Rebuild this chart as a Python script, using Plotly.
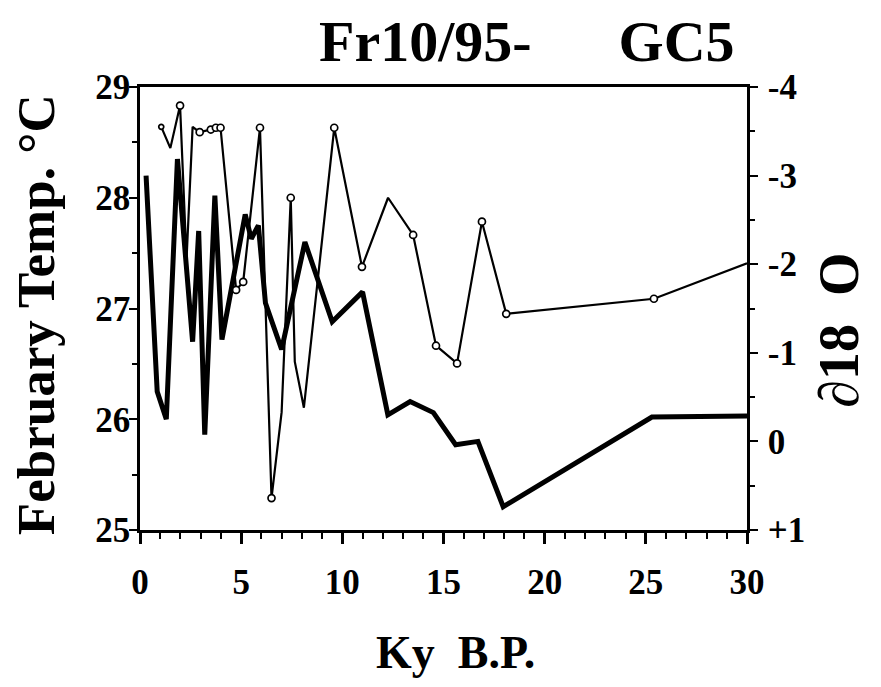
import plotly.graph_objects as go

# February temperature (left axis)
temp_age = [0.3, 0.85, 1.3, 1.85, 2.6, 2.9, 3.2, 3.7, 4.05, 5.2, 5.5, 5.85, 6.2, 7.0,
            8.15, 9.5, 11.0, 12.25, 13.35, 14.5, 15.6, 16.7, 17.95, 25.3, 30.0]
temp_val = [28.2, 26.25, 26.0, 28.35, 26.7, 27.7, 25.86, 28.02, 26.72, 27.85, 27.63, 27.75, 27.05, 26.63,
            27.6, 26.88, 27.15, 26.04, 26.16, 26.06, 25.77, 25.8, 25.21, 26.02, 26.03]

# delta 18 O (right axis, reversed)
d18o_age = [1.05, 1.5, 1.98, 2.3, 2.6, 2.95, 3.5, 3.75, 3.98, 4.75, 5.1, 5.93, 6.5, 7.0,
            7.45, 7.65, 8.1, 9.6, 10.97, 12.26, 13.5, 14.63, 15.67, 16.9, 18.1, 25.4, 30.0]
d18o_val = [-3.55, -3.31, -3.79, -2.05, -3.55, -3.49, -3.52, -3.54, -3.54, -1.71, -1.80, -3.54, 0.64, -0.33,
            -2.75, -0.90, -0.38, -3.54, -1.97, -2.75, -2.33, -1.08, -0.88, -2.48, -1.44, -1.61, -2.01]

x_ticks = [0, 5, 10, 15, 20, 25, 30]
y_ticks = [25, 26, 27, 28, 29]
y2_ticks = [-4, -3, -2, -1, 0, 1]
y2_labels = ["-4", "-3", "-2", "-1", "0", "+1"]
y2_minor = [-3.5, -2.5, -1.5, -0.5, 0.5]

# marker style per d18O sample (circle drawn or not)
d18o_marker_size = [5, 0, 7, 0, 0, 7, 7, 7, 7, 7, 7, 7, 7, 0,
                    7, 0, 0, 7, 7, 0, 7, 7, 7, 7, 7, 7, 0]

FONT = "Liberation Serif, Times New Roman, serif"

fig = go.Figure()
fig.add_trace(go.Scatter(x=temp_age, y=temp_val, mode="lines",
                         line=dict(color="black", width=5), yaxis="y", showlegend=False))
fig.add_trace(go.Scatter(x=d18o_age, y=d18o_val, mode="lines+markers",
                         line=dict(color="black", width=2.2),
                         marker=dict(symbol="circle", size=d18o_marker_size, color="#ffffff",
                                     opacity=1, line=dict(color="black", width=1.7)),
                         yaxis="y2", showlegend=False))

tickfont = dict(family=FONT, size=35, color="black", weight="bold")

# the page body adds an 8 px offset, so the figure is 8 px smaller than the window
fig.update_layout(
    width=873, height=679,
    margin=dict(l=132, r=134, t=79, b=157, autoexpand=False),
    paper_bgcolor="white", plot_bgcolor="white",
    font=dict(family=FONT, color="black"),
    xaxis=dict(range=[0, 30], tickvals=x_ticks, ticks="outside", ticklen=11, tickwidth=3,
               tickcolor="black", showline=True, linewidth=3, linecolor="black", mirror=True,
               showgrid=False, zeroline=False, tickfont=tickfont, ticklabelstandoff=8,
               automargin=False,
               minor=dict(dtick=1, ticks="outside", ticklen=6, tickwidth=2, tickcolor="black", showgrid=False)),
    yaxis=dict(range=[25, 29], tickvals=y_ticks, ticks="outside", ticklen=8, tickwidth=2,
               tickcolor="black", showline=True, linewidth=2.5, linecolor="black",
               showgrid=False, zeroline=False, tickfont=tickfont, ticklabelstandoff=-8,
               automargin=False,
               minor=dict(dtick=0.5, ticks="outside", ticklen=5, tickwidth=2, tickcolor="black", showgrid=False)),
    yaxis2=dict(range=[1, -4], overlaying="y", side="right", tickmode="array",
                tickvals=y2_ticks, ticktext=y2_labels, ticks="outside", ticklen=8, tickwidth=2,
                tickcolor="black", showline=True, linewidth=2.5, linecolor="black",
                showgrid=False, zeroline=False, tickfont=tickfont, ticklabelstandoff=3,
                automargin=False,
                minor=dict(tickmode="array", tickvals=y2_minor, ticks="outside", ticklen=5,
                           tickwidth=2, tickcolor="black", showgrid=False)),
    annotations=[
        dict(text="Fr10/95-\u00a0\u00a0\u00a0\u00a0\u00a0\u00a0GC5", xref="paper", yref="paper",
             x=0.637, y=1, yshift=46, xanchor="center", yanchor="middle", showarrow=False,
             font=dict(family=FONT, size=58, color="black", weight="bold")),
        dict(text="February Temp. °C", xref="paper", yref="paper", x=0, xshift=-104,
             y=0.485, textangle=-90, xanchor="center", yanchor="middle", showarrow=False,
             font=dict(family=FONT, size=53, color="black", weight="bold")),
        dict(text="∂18\u00a0\u00a0O", xref="paper", yref="paper", x=1, xshift=92,
             y=0.45, textangle=-90, xanchor="center", yanchor="middle", showarrow=False,
             font=dict(family=FONT, size=56, color="black", weight="bold")),
        dict(text="Ky\u00a0 B.P.", xref="paper", yref="paper", x=0.519, y=0, yshift=-122,
             xanchor="center", yanchor="middle", showarrow=False,
             font=dict(family=FONT, size=46, color="black", weight="bold")),
    ],
)

fig.write_html("out.html")
